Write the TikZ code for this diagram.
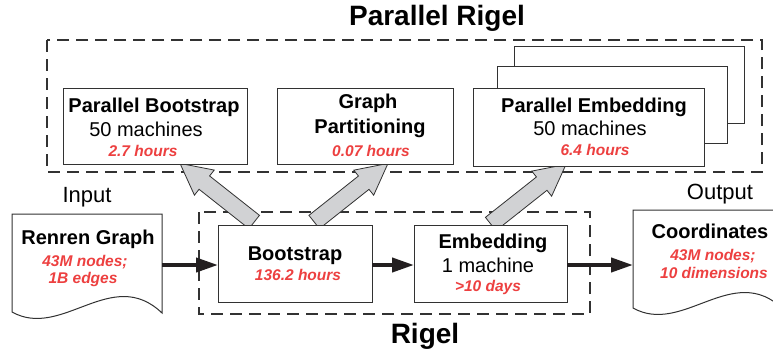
\documentclass[tikz,border=0pt]{standalone}
\usepackage{fontspec}
\setmainfont{Liberation Sans}
\usetikzlibrary{calc,arrows.meta}
\definecolor{redt}{RGB}{237,64,64}
\definecolor{fatgray}{RGB}{209,210,212}
\definecolor{edge}{RGB}{50,50,50}
\definecolor{ink}{RGB}{35,31,32}
\tikzset{
  box/.style={draw=edge,line width=1pt,fill=white,inner sep=0pt,anchor=north west},
  ghost/.style={inner sep=0pt,anchor=north west},
  dashbox/.style={draw=edge,line width=2.2pt,dash pattern=on 12pt off 7pt},
  bt/.style={font=\fontsize{20}{24}\selectfont\bfseries,anchor=base,inner sep=0pt},
  rt/.style={font=\fontsize{20}{24}\selectfont,anchor=base,inner sep=0pt},
  redtxt/.style={font=\fontsize{15.5}{18}\selectfont\bfseries\itshape,text=redt,anchor=base,inner sep=0pt},
  titletxt/.style={font=\fontsize{28}{32}\selectfont\bfseries,anchor=base,inner sep=0pt},
  labtxt/.style={font=\fontsize{22}{26}\selectfont,anchor=base,inner sep=0pt},
  flow/.style={line width=4pt,draw=ink,-{Triangle[length=22pt,width=14pt]}},
  fat/.style={draw=edge,line width=0.8pt,fill=fatgray,line join=miter},
  docshape/.style={draw=edge,line width=1pt,fill=white},
}
\newcommand\fatarrow[2]{%
  \coordinate (fab) at ($(#2)!31pt!(#1)$);
  \draw[fat] ($(#1)!8.5pt!90:(#2)$) -- ($(fab)!8.5pt!90:(#2)$) -- ($(fab)!16pt!90:(#2)$)
    -- (#2) -- ($(fab)!16pt!-90:(#2)$) -- ($(fab)!8.5pt!-90:(#2)$) -- ($(#1)!8.5pt!-90:(#2)$) -- cycle;}
\begin{document}
\begin{tikzpicture}[x=1pt,y=-1pt]
\useasboundingbox (0,0) rectangle (773,354);
\clip (0,0) rectangle (773,354);
\fill[white] (0,0) rectangle (773,354);

% dashed groups
\draw[dashbox] (47,40) rectangle (762,172);
\draw[dashbox] (199,212) rectangle (590,314);

% invisible frames for main boxes (positions)
\node[ghost,minimum width=154pt,minimum height=77pt] (boot) at (218,225) {};
\node[ghost,minimum width=153pt,minimum height=77pt] (emb) at (414,225) {};
\node[ghost,minimum width=184pt,minimum height=76pt] (pb) at (63,88) {};
\node[ghost,minimum width=176pt,minimum height=76pt] (gp) at (277,88) {};
\node[ghost,minimum width=231pt,minimum height=78pt] (pe) at (473,88) {};

% fat arrows
\coordinate (a1t) at ($(boot.north)+(-41,-3)$);
\coordinate (a1h) at ($(pb.south west)+(117,-1)$);
\coordinate (a2t) at ($(boot.north)+(19,-3)$);
\coordinate (a2h) at ($(gp.south west)+(111,-1)$);
\coordinate (a3t) at ($(emb.north)+(0,-1)$);
\coordinate (a3h) at ($(pe.south west)+(93,-2)$);
\fatarrow{a1t}{a1h}
\fatarrow{a2t}{a2h}
\fatarrow{a3t}{a3h}

% boxes
\node[box,minimum width=230pt,minimum height=77pt] (peback) at (514,46) {};
\node[box,minimum width=230pt,minimum height=77pt] (pemid) at (497,66) {};
\node[box,minimum width=231pt,minimum height=78pt] (pefront) at (pe.north west) {};
\node[box,minimum width=184pt,minimum height=76pt] (pbbox) at (pb.north west) {};
\node[box,minimum width=176pt,minimum height=76pt] (gpbox) at (gp.north west) {};
\node[box,minimum width=154pt,minimum height=77pt] (bootbox) at (boot.north west) {};
\node[box,minimum width=153pt,minimum height=77pt] (embbox) at (emb.north west) {};

% documents
\node[ghost,minimum width=150pt,minimum height=98pt] (rr) at (12,214) {};
\node[ghost,minimum width=150pt,minimum height=98pt] (co) at (633,210) {};
\begin{scope}[shift={(rr.north west)}]
  \draw[docshape] (0,0) -- (150,0) -- (150,99) .. controls (100,51) and (50,126) .. (0,98) -- cycle;
\end{scope}
\begin{scope}[shift={(co.north west)}]
  \draw[docshape] (0,0) -- (150,0) -- (150,99) .. controls (100,51) and (50,126) .. (0,98) -- cycle;
\end{scope}

% flow arrows
\draw[flow] (rr.east |- 0,265) -- (boot.west |- 0,265);
\draw[flow] (boot.east |- 0,265) -- (emb.west |- 0,265);
\draw[flow] (emb.east |- 0,265) -- (co.west |- 0,265);

% texts
\node[titletxt] (ttop) at (437,25) {Parallel Rigel};
\node[titletxt] (tbot) at (425,343) {Rigel};
\node[labtxt] (tin) at (87,202) {Input};
\node[labtxt] (tout) at (720,199) {Output};

\node[bt] (pb1) at (154,112) {Parallel Bootstrap};
\node[rt] (pb2) at (146,136) {50 machines};
\node[redtxt] (pb3) at (143,156) {2.7 hours};

\node[bt] (gp1) at (368,108) {Graph};
\node[bt] (gp2) at (370,133) {Partitioning};
\node[redtxt] (gp3) at (371,156) {0.07 hours};

\node[bt] (pe1) at (594,112) {Parallel Embedding};
\node[rt] (pe2) at (590,135) {50 machines};
\node[redtxt] (pe3) at (595,155) {6.4 hours};

\node[bt] (bo1) at (295,260) {Bootstrap};
\node[redtxt] (bo2) at (298,280) {136.2 hours};

\node[bt] (em1) at (493,248) {Embedding};
\node[rt] (em2) at (488,272) {1 machine};
\node[redtxt] (em3) at (488,291) {>10 days};

\node[bt] (rr1) at (88,244) {Renren Graph};
\node[redtxt] (rr2) at (85,266) {43M nodes;};
\node[redtxt] (rr3) at (83,283) {1B edges};

\node[bt] (co1) at (710,238) {Coordinates};
\node[redtxt] (co2) at (713,260) {43M nodes;};
\node[redtxt] (co3) at (714,278) {10 dimensions};
\end{tikzpicture}
\end{document}
